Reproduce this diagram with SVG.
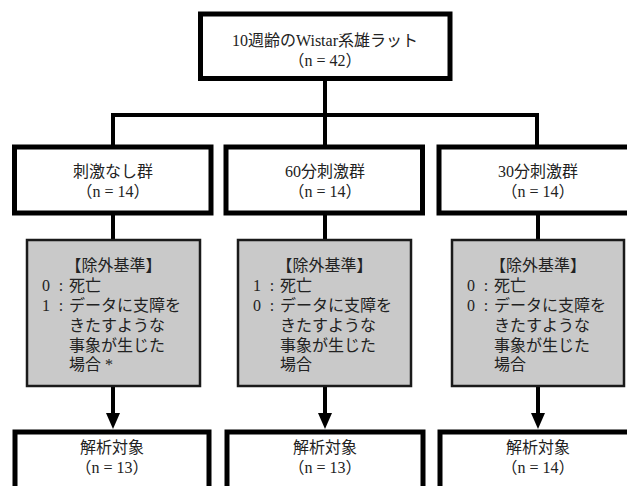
<svg xmlns="http://www.w3.org/2000/svg" width="627" height="486" viewBox="0 0 627 486">
<style>
.box{fill:#fff;stroke:#000;stroke-width:5}
.gbox{fill:#c9c9c9;stroke:#1a1a1a;stroke-width:2.5}
.t{font-family:"Liberation Serif","Noto Sans CJK JP",serif;font-size:16px;fill:#222}
.p{font-family:"Noto Sans CJK JP",sans-serif}
.c{text-anchor:middle}
.ln{stroke:#000;stroke-width:4;fill:none}
.ah{fill:#000}
</style>
<rect width="627" height="486" fill="#fff"/>
<g id="connectors">
<path class="ln" d="M325,80 V115 M113,115 H537 M113,113 V147 M325,113 V147 M537,113 V147"/>
<path class="ln" d="M113,213 V240 M325,213 V240 M538,213 V240"/>
<path class="ln" d="M113,386 V416 M325,386 V416 M538,386 V416"/>
<polygon class="ah" points="106,413 120,413 113,429"/>
<polygon class="ah" points="318,413 332,413 325,429"/>
<polygon class="ah" points="531,413 545,413 538,429"/>
</g>
<g id="root">
<rect class="box" x="200.5" y="14" width="249.5" height="64.5"/>
<text class="t c" x="325" y="46" font-size="16.5">10週齢のWistar系雄ラット</text>
<text class="t c" x="325" y="66"><tspan class="p">（</tspan>n = 42<tspan class="p">）</tspan></text>
</g>
<g id="group1">
<rect class="box" x="14.5" y="147" width="196.5" height="66"/>
<text class="t c" x="113" y="177">刺激なし群</text>
<text class="t c" x="113" y="197"><tspan class="p">（</tspan>n = 14<tspan class="p">）</tspan></text>
</g>
<g id="group2">
<rect class="box" x="226" y="147" width="196.5" height="66"/>
<text class="t c" x="325" y="177">60分刺激群</text>
<text class="t c" x="325" y="197"><tspan class="p">（</tspan>n = 14<tspan class="p">）</tspan></text>
</g>
<g id="group3">
<rect class="box" x="439" y="147" width="196.5" height="66"/>
<text class="t c" x="538" y="177">30分刺激群</text>
<text class="t c" x="538" y="197"><tspan class="p">（</tspan>n = 14<tspan class="p">）</tspan></text>
</g>
<g id="excl1">
<rect class="gbox" x="27" y="240" width="173" height="146"/>
<text class="t c" x="113.5" y="271">【除外基準】</text>
<text class="t c" x="46" y="291">0</text><text class="t c" x="61" y="291">:</text><text class="t" x="69" y="291">死亡</text>
<text class="t c" x="46" y="311">1</text><text class="t c" x="61" y="311">:</text><text class="t" x="69" y="311">データに支障を</text>
<text class="t" x="69" y="331">きたすような</text>
<text class="t" x="69" y="351">事象が生じた</text>
<text class="t" x="69" y="370">場合 *</text>
</g>
<g id="excl2">
<rect class="gbox" x="238" y="240" width="173" height="146"/>
<text class="t c" x="324.5" y="271">【除外基準】</text>
<text class="t c" x="257" y="291">1</text><text class="t c" x="272" y="291">:</text><text class="t" x="280" y="291">死亡</text>
<text class="t c" x="257" y="311">0</text><text class="t c" x="272" y="311">:</text><text class="t" x="280" y="311">データに支障を</text>
<text class="t" x="280" y="331">きたすような</text>
<text class="t" x="280" y="351">事象が生じた</text>
<text class="t" x="280" y="370">場合</text>
</g>
<g id="excl3">
<rect class="gbox" x="452" y="240" width="172" height="146"/>
<text class="t c" x="538" y="271">【除外基準】</text>
<text class="t c" x="471" y="291">0</text><text class="t c" x="486" y="291">:</text><text class="t" x="494" y="291">死亡</text>
<text class="t c" x="471" y="311">0</text><text class="t c" x="486" y="311">:</text><text class="t" x="494" y="311">データに支障を</text>
<text class="t" x="494" y="331">きたすような</text>
<text class="t" x="494" y="351">事象が生じた</text>
<text class="t" x="494" y="370">場合</text>
</g>
<g id="result1">
<rect class="box" x="15" y="432" width="194" height="70"/>
<text class="t c" x="112" y="453">解析対象</text>
<text class="t c" x="112" y="473"><tspan class="p">（</tspan>n = 13<tspan class="p">）</tspan></text>
</g>
<g id="result2">
<rect class="box" x="227" y="432" width="196" height="70"/>
<text class="t c" x="325" y="453">解析対象</text>
<text class="t c" x="325" y="473"><tspan class="p">（</tspan>n = 13<tspan class="p">）</tspan></text>
</g>
<g id="result3">
<rect class="box" x="440" y="432" width="196" height="70"/>
<text class="t c" x="538" y="453">解析対象</text>
<text class="t c" x="538" y="473"><tspan class="p">（</tspan>n = 14<tspan class="p">）</tspan></text>
</g>
</svg>
